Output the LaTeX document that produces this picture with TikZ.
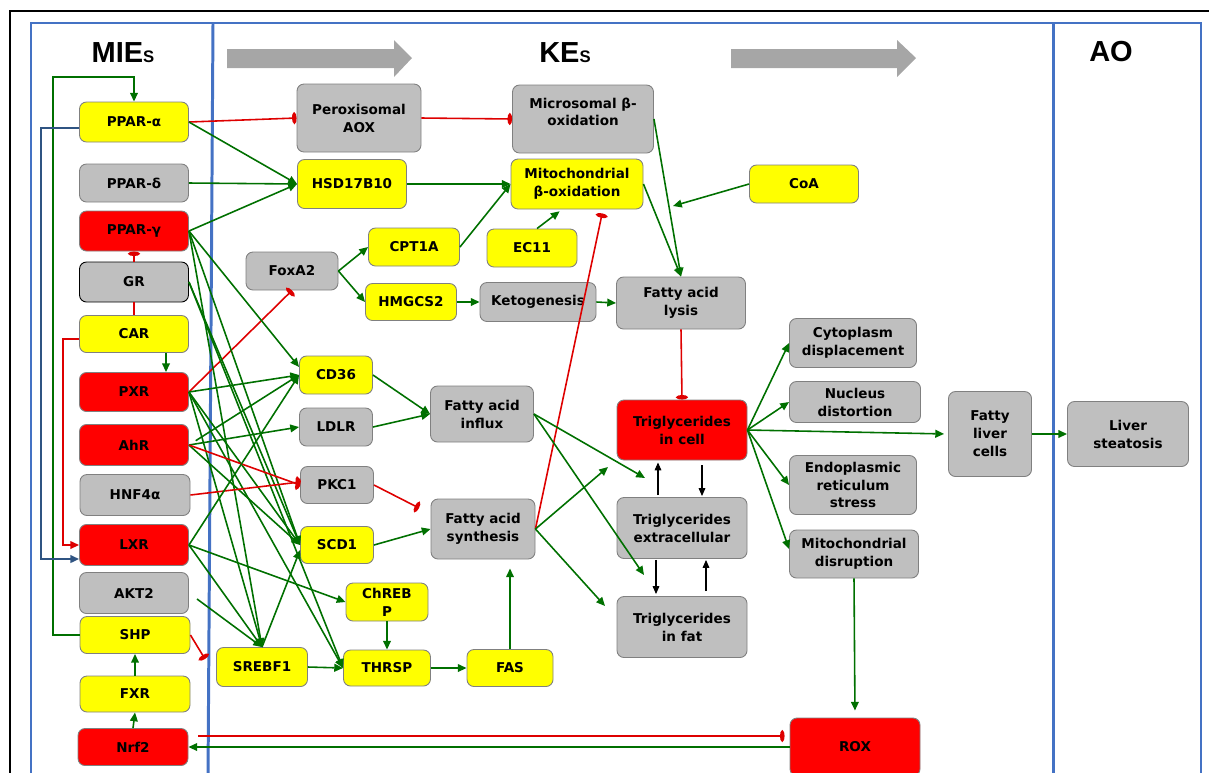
\documentclass[tikz,border=0pt]{standalone}
\usepackage{fontspec}
\setmainfont{DejaVu Sans}
\newfontfamily\arial{Liberation Sans}
\usetikzlibrary{arrows.meta}

\newdimen\px \px=0.02cm

\definecolor{corAmarela}{RGB}{255,255,0}
\definecolor{corVermelha}{RGB}{255,0,0}
\definecolor{corCinza}{RGB}{191,191,191}
\definecolor{corBorda}{RGB}{128,128,128}
\definecolor{corVerde}{RGB}{0,112,0}
\definecolor{corLinha}{RGB}{222,0,0}
\definecolor{corAzul}{RGB}{68,114,196}
\definecolor{corAzulEscuro}{RGB}{47,84,130}
\definecolor{corSeta}{RGB}{166,166,166}

\begin{document}
\begin{tikzpicture}[
  x=1\px, y=-1\px,
  every node/.style={draw=corBorda, line width=0.5pt, rounded corners=4pt, align=center,
    inner sep=1pt, font=\bfseries\fontsize{7.7}{10.2}\selectfont},
  tam/.style 2 args={minimum width=#1\px, minimum height=#2\px},
  titulo/.style={draw=none, font=\arial\bfseries\fontsize{16.5}{18}\selectfont}
]
\tikzset{
  amarelo/.style={fill=corAmarela},
  vermelho/.style={fill=corVermelha},
  cinza/.style={fill=corCinza},
  ativa/.style={draw=corVerde, line width=0.9pt, -{Triangle[length=5pt,width=4.4pt]}},
  inibe/.style={draw=corLinha, line width=0.9pt, -{Ellipse[length=2.6pt,width=6.5pt]}},
  preta/.style={draw=black, line width=0.6pt, -{Triangle[length=4.5pt,width=3.8pt]}}
}
\useasboundingbox (0,0) rectangle (1209,772);

% moldura e colunas
\draw[line width=1.2pt] (1215,11) -- (10,11) -- (10,780);
\draw[corAzul, line width=0.6pt] (31,23) rectangle (1201,790);
\draw[corAzul, line width=1.7pt] (213,24) -- (208,780);
\draw[corAzul, line width=1.7pt] (1053,24) -- (1053,780);
\fill[corSeta] (227,49) -- (394,49) -- (394,40) -- (412,58) -- (394,77) -- (394,68) -- (227,68) -- cycle;
\fill[corSeta] (731,49) -- (897,49) -- (897,40) -- (916,58) -- (897,77) -- (897,68) -- (731,68) -- cycle;

\node[titulo] (tmie) at (123,53) {MIE{\fontsize{9.5}{10}\selectfont S}};
\node[titulo] (tke) at (565,53) {KE{\fontsize{9.5}{10}\selectfont S}};
\node[titulo] (tao) at (1111,52) {AO};

% MIEs
\node[amarelo, tam={109}{40}] (ppara) at (134,122) {PPAR-α};
\node[cinza, tam={109}{38}] (ppard) at (134,183) {PPAR-δ};
\node[vermelho, tam={109}{40}] (pparg) at (134,231) {PPAR-γ};
\node[cinza, draw=black, tam={109}{40}] (gr) at (134,282) {GR};
\node[amarelo, tam={109}{37}] (car) at (134,334) {CAR};
\node[vermelho, tam={109}{39}] (pxr) at (134,392) {PXR};
\node[vermelho, tam={109}{41}] (ahr) at (134,445) {AhR};
\node[cinza, tam={110}{41}] (hnf) at (135,495) {HNF4α};
\node[vermelho, tam={109}{41}] (lxr) at (134,545) {LXR};
\node[cinza, tam={109}{41}] (akt) at (134,593) {AKT2};
\node[amarelo, tam={110}{37}] (shp) at (135,635) {SHP};
\node[amarelo, tam={110}{36}] (fxr) at (135,694) {FXR};
\node[vermelho, tam={110}{37}] (nrf) at (133,747) {Nrf2};

% KEs
\node[cinza, tam={124}{68}] (aox) at (359,118) {Peroxisomal\\AOX};
\node[amarelo, tam={109}{49}] (hsd) at (352,184) {HSD17B10};
\node[cinza, tam={141}{68}] (micro) at (583,119) {Microsomal β-\\oxidation\\[-2pt]\mbox{}};
\node[amarelo, tam={132}{50}] (mito) at (577,184) {Mitochondrial\\β-oxidation};
\node[amarelo, tam={109}{38}] (coa) at (804,184) {CoA};
\node[cinza, tam={92}{38}] (foxa) at (292,271) {FoxA2};
\node[amarelo, tam={91}{38}] (cpt) at (414,247) {CPT1A};
\node[amarelo, tam={91}{37}] (hmg) at (411,302) {HMGCS2};
\node[amarelo, tam={90}{38}] (ec) at (532,248) {EC11};
\node[cinza, tam={116}{39}] (ceto) at (538,302) {Ketogenesis};
\node[cinza, tam={129}{52}] (lise) at (681,303) {Fatty acid\\lysis};
\node[amarelo, tam={73}{38}] (cd36) at (336,375) {CD36};
\node[cinza, tam={73}{38}] (ldlr) at (336,427) {LDLR};
\node[cinza, tam={73}{37}] (pkc) at (337,485) {PKC1};
\node[amarelo, tam={73}{37}] (scd) at (337,545) {SCD1};
\node[amarelo, tam={82}{38}] (chrebp) at (387,602) {ChREB\\P};
\node[amarelo, tam={91}{39}] (srebf) at (262,667) {SREBF1};
\node[amarelo, tam={87}{36}] (thrsp) at (387,668) {THRSP};
\node[amarelo, tam={86}{37}] (fas) at (510,668) {FAS};
\node[cinza, tam={103}{56}] (influxo) at (482,414) {Fatty acid\\influx};
\node[cinza, tam={104}{60}] (sintese) at (483,529) {Fatty acid\\synthesis};
\node[vermelho, tam={130}{60}] (tgcel) at (682,430) {Triglycerides\\in cell};
\node[cinza, tam={130}{61}] (tgext) at (682,528) {Triglycerides\\extracellular};
\node[cinza, tam={130}{61}] (tggord) at (682,627) {Triglycerides\\in fat};
\node[cinza, tam={127}{49}] (cito) at (853,343) {Cytoplasm\\displacement};
\node[cinza, tam={131}{41}] (nucleo) at (855,402) {Nucleus\\distortion};
\node[cinza, tam={127}{59}] (re) at (853,485) {Endoplasmic\\reticulum\\stress};
\node[cinza, tam={129}{48}] (mitodis) at (854,554) {Mitochondrial\\disruption};
\node[cinza, tam={83}{85}] (figado) at (990,434) {Fatty\\liver\\cells};
\node[vermelho, tam={130}{58}] (rox) at (855,747) {ROX};

% AO
\node[cinza, tam={121}{65}] (esteatose) at (1128,434) {Liver\\steatosis};

% pontas soltas
\coordinate (pontocoa) at (673,206);
\coordinate (inibsint) at (419,508);
\coordinate (inibsrebf) at (205,659);
\coordinate (pontoext) at (645,478);
\coordinate (pontogord) at (644,575);
\coordinate (pontocel) at (608,467);
\coordinate (pontogord2) at (605,606);

% laterais
\draw[ativa] (shp.west) -| (53,77) -| (ppara.north);
\draw[corAzulEscuro, line width=1.2pt, -{Triangle[length=5pt,width=4.4pt]}]
  ([yshift=-6\px]ppara.west) -| (41,559) -- ([yshift=-14\px]lxr.west);
\draw[corLinha, line width=0.9pt, -{Triangle[length=5pt,width=4.4pt]}]
  ([yshift=-5\px]car.west) -| (63,545) -- (lxr.west);
\draw[inibe] (gr.north) -- (pparg.south);
\draw[corLinha, line width=0.9pt] (gr.south) -- (car.north);
\draw[ativa] ([xshift=32\px]car.south) -- ([xshift=32\px]pxr.north);
\draw[ativa] (fxr.north) -- (shp.south);
\draw[ativa] (nrf.north) -- (fxr.south);
\draw[ativa] (rox.west) -- (nrf.east);
\draw[inibe, shorten <=10\px, shorten >=5\px] ([yshift=11\px]nrf.east) -- ([yshift=11\px]rox.west);

% oxidacao
\draw[inibe] (ppara.east) -- (aox.west);
\draw[ativa] (ppara.east) -- (hsd.west);
\draw[ativa] (ppard.east) -- (hsd.west);
\draw[ativa] (pparg.east) -- (hsd.west);
\draw[inibe] (aox.east) -- (micro.west);
\draw[ativa] (hsd.east) -- (mito.west);
\draw[ativa] (cpt.east) -- (mito.west);
\draw[ativa, shorten >=3\px] ([xshift=5\px]ec.north) -- ([xshift=-15\px]mito.south);
\draw[ativa] (coa.west) -- (pontocoa);
\draw[ativa] (micro.east) -- (lise.north);
\draw[ativa] (mito.east) -- (lise.north);
\draw[ativa] (foxa.east) -- (cpt.west);
\draw[ativa] (foxa.east) -- (hmg.west);
\draw[ativa] (hmg.east) -- (ceto.west);
\draw[ativa] (ceto.east) -- (lise.west);
\draw[inibe] (pxr.east) -- (foxa.south);

% receptores para genes
\draw[ativa] (pparg.east) -- ([yshift=8\px]cd36.west);
\draw[ativa] (pparg.east) -- (scd.west);
\draw[ativa] (pparg.east) -- (srebf.north);
\draw[ativa] (gr.east) -- (scd.west);
\draw[ativa] (gr.east) -- (thrsp.west);
\draw[ativa] (pxr.east) -- (cd36.west);
\draw[ativa] (pxr.east) -- (scd.west);
\draw[ativa] (pxr.east) -- (srebf.north);
\draw[ativa] (pxr.east) -- (thrsp.west);
\draw[ativa] (ahr.east) -- (ldlr.west);
\draw[ativa, shorten <=8\px] (ahr.east) -- (cd36.west);
\draw[ativa] (ahr.east) -- (scd.west);
\draw[inibe] (ahr.east) -- (pkc.west);
\draw[inibe] (hnf.east) -- ([yshift=3\px]pkc.west);
\draw[ativa] (lxr.east) -- (cd36.west);
\draw[ativa] (lxr.east) -- (srebf.north);
\draw[ativa] (lxr.east) -- (chrebp.west);
\draw[ativa, shorten <=10\px] (akt.east) -- (srebf.north);
\draw[inibe] (shp.east) -- (inibsrebf);
\draw[ativa] (srebf.north) -- ([yshift=-5\px]scd.west);
\draw[ativa] (srebf.east) -- (thrsp.west);
\draw[ativa] (chrebp.south) -- (thrsp.north);
\draw[ativa] (thrsp.east) -- (fas.west);

% acidos graxos
\draw[inibe] (pkc.east) -- (inibsint);
\draw[ativa] (cd36.east) -- (influxo.west);
\draw[ativa] (ldlr.east) -- (influxo.west);
\draw[ativa] (scd.east) -- (sintese.west);
\draw[ativa, shorten >=9\px] (fas.north) -- ([xshift=27\px]sintese.south);
\draw[inibe, shorten >=4\px] (sintese.east) -- ([xshift=26\px]mito.south);
\draw[ativa] (influxo.east) -- (pontoext);
\draw[ativa] (influxo.east) -- (pontogord);
\draw[ativa] (sintese.east) -- (pontocel);
\draw[ativa] (sintese.east) -- (pontogord2);

% trigliceridios
\draw[inibe] (lise.south) -- (tgcel.north);
\draw[preta, shorten <=2\px, shorten >=2\px] ([xshift=-24\px]tgext.north) -- ([xshift=-24\px]tgcel.south);
\draw[preta, shorten <=5\px, shorten >=1\px] ([xshift=20\px]tgcel.south) -- ([xshift=20\px]tgext.north);
\draw[preta, shorten <=1\px, shorten >=2\px] ([xshift=-26\px]tgext.south) -- ([xshift=-26\px]tggord.north);
\draw[preta, shorten <=5\px, shorten >=1\px] ([xshift=24\px]tggord.north) -- ([xshift=24\px]tgext.south);
\draw[ativa] (tgcel.east) -- (cito.west);
\draw[ativa] (tgcel.east) -- (nucleo.west);
\draw[ativa, shorten >=4\px] (tgcel.east) -- (figado.west);
\draw[ativa] (tgcel.east) -- (re.west);
\draw[ativa] (tgcel.east) -- ([yshift=5\px]mitodis.west);
\draw[ativa, shorten >=7\px] (mitodis.south) -- (rox.north);
\draw[ativa] (figado.east) -- (esteatose.west);
\end{tikzpicture}
\end{document}
